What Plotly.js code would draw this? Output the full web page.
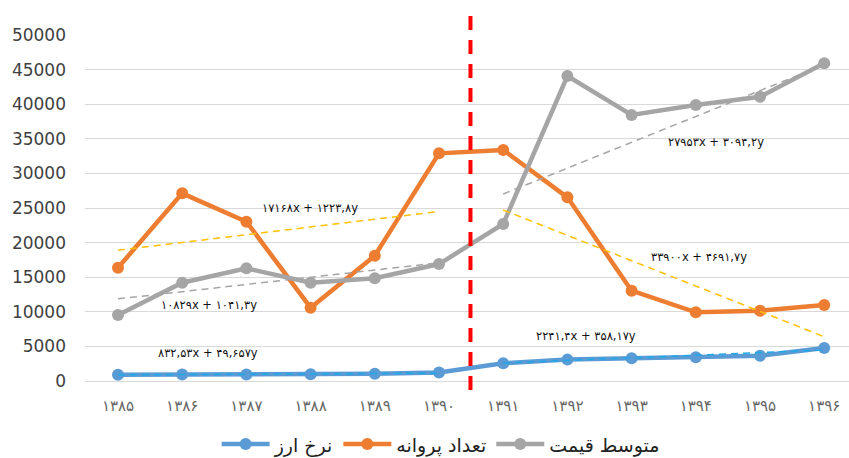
<!DOCTYPE html>
<html>
<head>
<meta charset="utf-8">
<script src="https://cdn.plot.ly/plotly-3.0.1.min.js"></script>
<style>html,body{margin:0;padding:0;background:#fff;}#chart{width:849px;height:458px;}</style>
</head>
<body>
<div id="chart"></div>
<script>
const years = ['۱۳۸۵','۱۳۸۶','۱۳۸۷','۱۳۸۸','۱۳۸۹','۱۳۹۰','۱۳۹۱','۱۳۹۲','۱۳۹۳','۱۳۹۴','۱۳۹۵','۱۳۹۶'];
const exchangeRate = [900, 930, 950, 960, 1050, 1230, 2560, 3090, 3280, 3420, 3660, 4770];
const permits = [16370, 27120, 23020, 10590, 18110, 32900, 33380, 26540, 13050, 9920, 10160, 10980];
const avgPrice = [9540, 14200, 16280, 14200, 14840, 16900, 22690, 44070, 38440, 39880, 41080, 45910];

const trendYearsA = ['۱۳۸۵','۱۳۹۰'];
const trendYearsB = ['۱۳۹۱','۱۳۹۶'];
const permitsTrendA = [18900, 24500];
const permitsTrendB = [24710, 6400];
const priceTrendA = [11870, 17080];
const priceTrendB = [27020, 45700];
const rateTrendA = [880, 1130];
const rateTrendB = [2600, 4480];

const seriesNames = ['نرخ ارز', 'تعداد پروانه', 'متوسط قیمت'];
const equations = ['۱۷۱۶۸x + ۱۲۲۳,۸y', '۱۰۸۲۹x + ۱۰۴۱,۳y', '۸۳۲,۵۳x + ۴۹,۶۵۷y',
                   '۲۷۹۵۳x + ۳۰۹۴,۲y', '۳۳۹۰۰x + ۴۶۹۱,۷y', '۲۲۴۱,۴x + ۳۵۸,۱۷y'];
const yTicks = [0, 5000, 10000, 15000, 20000, 25000, 30000, 35000, 40000, 45000, 50000];

const BLUE = '#5B9BD5', ORANGE = '#ED7D31', GRAY = '#A5A5A5';

function main(name, y, color) {
  return {x: years, y: y, name: name, type: 'scatter', mode: 'lines+markers',
    line: {color: color, width: 4.5}, marker: {color: color, size: 12}};
}
function trend(x, y, color) {
  return {x: x, y: y, type: 'scatter', mode: 'lines', showlegend: false, hoverinfo: 'skip',
    line: {color: color, width: 1.5, dash: '7px,5px'}};
}

const data = [
  main(seriesNames[0], exchangeRate, BLUE),
  main(seriesNames[1], permits, ORANGE),
  main(seriesNames[2], avgPrice, GRAY),
  trend(trendYearsA, permitsTrendA, '#FFC000'),
  trend(trendYearsB, permitsTrendB, '#FFC000'),
  trend(trendYearsA, priceTrendA, '#A5A5A5'),
  trend(trendYearsB, priceTrendB, '#A5A5A5'),
  trend(trendYearsA, rateTrendA, '#1FA8E6'),
  trend(trendYearsB, rateTrendB, '#1FA8E6')
];

const annFont = {family: 'DejaVu Sans', size: 11.5, color: '#111'};
const annPos = [[2.99, 25000], [1.42, 10980], [1.40, 4050], [9.31, 34540], [9.05, 17920], [7.29, 6500]];
const annotations = equations.map((t, i) => ({
  text: t, x: annPos[i][0], y: annPos[i][1], xref: 'x', yref: 'y',
  showarrow: false, font: annFont, xanchor: 'center', yanchor: 'middle'
}));

const layout = {
  width: 849, height: 458,
  margin: {l: 85, r: 0, t: 35, b: 77, autoexpand: false},
  paper_bgcolor: '#fff', plot_bgcolor: '#fff',
  showlegend: true,
  legend: {orientation: 'h', x: 0.519, xanchor: 'center', xref: 'container',
    y: 0.03, yanchor: 'middle', yref: 'container',
    font: {family: 'DejaVu Sans', size: 19, color: '#222'}, itemwidth: 48, traceorder: 'normal'},
  xaxis: {type: 'category', range: [-0.514, 11.386], showgrid: false, zeroline: false,
    showline: false, ticks: '', ticklabelstandoff: 14,
    tickfont: {family: 'DejaVu Sans', size: 15, color: '#666'}, fixedrange: true},
  yaxis: {range: [0, 50000], tickvals: yTicks, ticktext: yTicks.map(String),
    showgrid: true, gridcolor: '#D9D9D9', gridwidth: 1, zeroline: true, zerolinecolor: '#D9D9D9',
    zerolinewidth: 1, showline: false, ticks: '', ticklabelstandoff: 18,
    tickfont: {family: 'DejaVu Sans', size: 17, color: '#404040'}, fixedrange: true},
  shapes: [{type: 'line', xref: 'x', yref: 'paper', x0: 5.49, x1: 5.49, y0: 1.055, y1: -0.035,
    line: {color: '#FF0000', width: 4, dash: '14px,10px'}, layer: 'above'}],
  annotations: annotations
};

Plotly.newPlot('chart', data, layout, {displayModeBar: false, staticPlot: true});
</script>
</body>
</html>
